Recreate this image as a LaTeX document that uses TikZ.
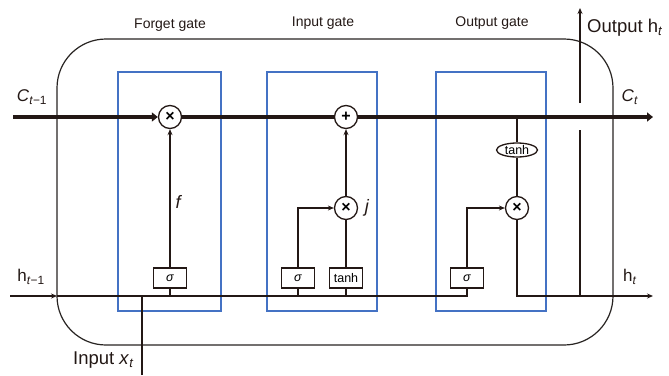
\documentclass[tikz,border=0pt]{standalone}
\usepackage{fontspec}
\setmainfont{Liberation Sans}
\usetikzlibrary{shapes.geometric,arrows.meta}
\definecolor{gateblue}{RGB}{68,114,196}
\definecolor{ink}{RGB}{35,24,21}
\definecolor{frame}{RGB}{40,36,34}
\newcommand{\fsz}[1]{\fontsize{#1}{#1}\selectfont}
\newcommand{\lsub}[1]{\textsubscript{#1}}
\begin{document}
\begin{tikzpicture}[x=1pt,y=-1pt,
  wire/.style={line width=1.1pt,draw=ink},
  cwire/.style={line width=4pt,draw=ink},
  arr/.style={-{Stealth[length=6pt,width=5pt]}},
  carr/.style={-{Triangle[length=6pt,width=9pt]}},
  gatebox/.style={draw=gateblue,line width=2pt},
  op/.style={circle,draw=ink,line width=1.3pt,minimum size=23pt,inner sep=0pt,fill=white,font=\fsz{16}\bfseries},
  actbox/.style={rectangle,draw=ink,line width=1.2pt,minimum width=33pt,minimum height=20pt,inner sep=0pt,fill=white,font=\fsz{12.5}},
  title/.style={font=\fsz{14},text=ink},
  big/.style={font=\fsz{17},text=ink,inner sep=0pt},
  bigger/.style={font=\fsz{18.5},text=ink,inner sep=0pt}
]
\useasboundingbox (0,0) rectangle (669,375);

% cell outline
\draw[line width=1.2pt,draw=frame,rounded corners=49pt] (57,39) rectangle (613,345);

% gate frames
\draw[gatebox] (118,72) rectangle (221,311);
\draw[gatebox] (267,72) rectangle (377,311);
\draw[gatebox] (436,72) rectangle (546,311);

% gate titles
\node[title] (tf) at (170,25) {Forget gate};
\node[title] (ti) at (323,23) {Input gate};
\node[title] (to) at (492,23) {Output gate};

% end points
\coordinate (cin) at (13,117);
\coordinate (cout) at (653,117);
\coordinate (ctap) at (517,117);
\coordinate (hin) at (10,296);
\coordinate (hedge) at (57,296);
\coordinate (hout) at (653,296);
\coordinate (xin) at (142,375);
\coordinate (xj) at (142,296);
\coordinate (obot) at (580,296);
\coordinate (olow) at (580,130);
\coordinate (ohigh) at (580,103);
\coordinate (otop) at (580,8);

% operators
\node[op] (fx) at (170,117) {×};
\node[op] (ip) at (346,117) {+};
\node[op] (ix) at (346,208) {×};
\node[op] (ox) at (517,208) {×};
\node[ellipse,draw=ink,line width=1.3pt,minimum width=41pt,minimum height=14pt,inner sep=0pt,fill=white,font=\fsz{12.5}] (ot) at (517,150) {tanh};

% activations
\node[actbox] (fsg) at (170,278) {\textit{σ}};
\node[actbox] (isg) at (298,278) {\textit{σ}};
\node[actbox] (ith) at (346,278) {tanh};
\node[actbox] (osg) at (467,278) {\textit{σ}};

% cell state line
\draw[cwire,carr] (cin) -- (fx);
\draw[cwire] (fx) -- (ip);
\draw[cwire,carr] (ip) -- (cout);

% hidden state / input line
\draw[wire,arr] (hin) -- (hedge);
\draw[wire] (hedge) -- (osg.south |- hedge) -- (osg.south);
\draw[wire] (fsg.south) -- (fsg.south |- hedge);
\draw[wire] (isg.south) -- (isg.south |- hedge);
\draw[wire] (ith.south) -- (ith.south |- hedge);
\draw[wire] (xin) -- (xj);

% forget gate
\draw[wire,arr] (fsg) -- (fx);

% input gate
\draw[wire,arr] (isg.north) |- (ix.west);
\draw[wire] (ith) -- (ix);
\draw[wire,arr] (ix) -- (ip);

% output gate
\draw[wire] (ctap) -- (ot);
\draw[wire] (ot) -- (ox);
\draw[wire,arr] (osg.north) |- (ox.west);
\draw[wire,arr] (ox.south) |- (hout);
\draw[wire] (obot) -- (olow);
\draw[wire,arr] (ohigh) -- (otop);

% labels
\node[font=\fsz{18},text=ink] (lf) at (179,202) {\textit{f}};
\node[font=\fsz{18},text=ink] (lj) at (367,208) {\textit{j}};
\node[big] (lc0) at (32,97) {\textit{C}\lsub{\textit{t}−1}};
\node[big] (lc1) at (630,97) {\textit{C}\lsub{\textit{t}}};
\node[big] (lh0) at (31,277) {h\lsub{\textit{t}−1}};
\node[big] (lh1) at (630,277) {h\lsub{\textit{t}}};
\node[bigger,anchor=west] (lout) at (587,28) {Output h\lsub{\textit{t}}};
\node[bigger,anchor=east] (lin) at (134,360) {Input \textit{x}\lsub{\textit{t}}};
\end{tikzpicture}
\end{document}
